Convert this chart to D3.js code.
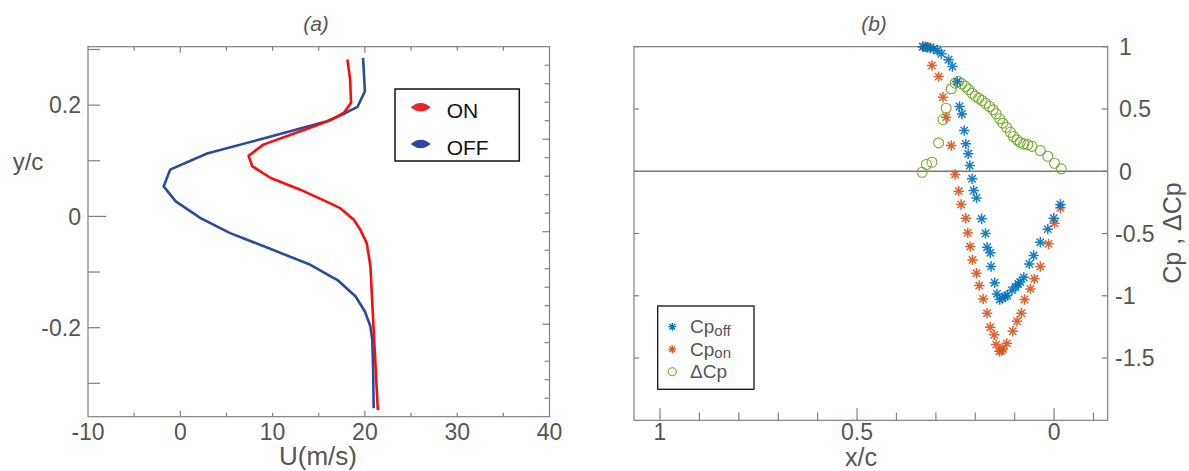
<!DOCTYPE html>
<html><head><meta charset="utf-8">
<script src="https://cdn.jsdelivr.net/npm/d3@7"></script>
<style>body{margin:0;background:#fff}svg{display:block}text{font-family:"Liberation Sans",Arial,sans-serif}</style>
</head><body><svg id="c" width="1189" height="471"></svg>
<script>
// ---- Panel (a): velocity profiles ----
const yOff = [0.285,0.255,0.225,0.197,0.185,0.171,0.140,0.113,0.084,0.054,0.027,-0.003,-0.030,-0.060,-0.087,-0.108,-0.114,-0.144,-0.171,-0.198,-0.222,-0.280,-0.345];
const uOff = [19.8,19.9,20.0,19.2,17.8,15.9,9.0,2.9,-1.1,-1.8,-0.5,2.2,5.4,10.0,14.1,16.3,17.0,19.0,20.0,20.6,20.8,20.9,20.95];
const yOn  = [0.282,0.246,0.204,0.186,0.173,0.153,0.129,0.109,0.090,0.069,0.048,0.023,0.015,-0.006,-0.024,-0.048,-0.090,-0.204,-0.348];
const uOn  = [18.1,18.4,18.5,17.7,16.3,13.0,9.0,7.4,7.8,9.8,13.0,16.3,17.3,18.8,19.5,20.2,20.6,20.95,21.4];
const aXTicks = [-10,0,10,20,30,40];
const aYTicks = [0.2,0,-0.2];
const aLegend = ["ON","OFF"];

// ---- Panel (b): pressure coefficients ----
const xCpOff = [0.333,0.323,0.314,0.306,0.296,0.286,0.268,0.258,0.246,0.240,0.234,0.228,0.224,0.218,0.214,0.208,0.204,0.197,0.184,0.174,0.170,0.162,0.160,0.151,0.145,0.138,0.132,0.124,0.119,0.107,0.098,0.091,0.086,0.077,0.063,0.052,0.035,0.016,0.001,-0.016];
const cpOff  = [1.00,0.996,0.99,0.983,0.97,0.943,0.895,0.841,0.72,0.52,0.46,0.327,0.22,0.14,0.046,-0.061,-0.155,-0.214,-0.382,-0.50,-0.61,-0.655,-0.765,-0.895,-0.985,-1.03,-1.02,-1.005,-0.998,-0.955,-0.93,-0.905,-0.89,-0.852,-0.744,-0.677,-0.57,-0.465,-0.377,-0.267];
const xCpOn = [0.333,0.327,0.320,0.310,0.293,0.282,0.274,0.261,0.251,0.242,0.236,0.224,0.219,0.213,0.207,0.197,0.190,0.180,0.170,0.162,0.152,0.147,0.139,0.134,0.130,0.120,0.105,0.094,0.083,0.075,0.060,0.050,0.035,0.014,-0.001,-0.016];
const cpOn  = [1.0,1.0,0.995,0.849,0.76,0.594,0.434,0.206,-0.026,-0.16,-0.267,-0.377,-0.495,-0.605,-0.712,-0.819,-0.918,-1.025,-1.14,-1.253,-1.314,-1.392,-1.446,-1.44,-1.427,-1.382,-1.285,-1.205,-1.14,-1.03,-0.945,-0.864,-0.765,-0.583,-0.418,-0.294];
const xDCp = [0.335,0.324,0.310,0.293,0.282,0.274,0.261,0.251,0.242,0.234,0.225,0.217,0.208,0.200,0.191,0.183,0.174,0.164,0.155,0.147,0.138,0.130,0.121,0.111,0.103,0.094,0.086,0.077,0.067,0.056,0.035,0.016,-0.001,-0.018];
const dCp  = [-0.008,0.054,0.072,0.228,0.415,0.506,0.662,0.707,0.72,0.702,0.68,0.656,0.626,0.602,0.586,0.568,0.546,0.52,0.493,0.461,0.421,0.386,0.353,0.313,0.279,0.252,0.233,0.22,0.214,0.2,0.166,0.12,0.064,0.019];
const bXTicks = [1,0.5,0];
const bXMinor = [1,0.9,0.8,0.7,0.6,0.5,0.4,0.3,0.2,0.1,0,-0.1];
const bYTicks = [1,0.5,0,-0.5,-1,-1.5];
const bYLabels = ["1","0.5","0","-0.5","-1","-1.5"];

const svg = d3.select("#c");
const grey = "#555", axc = "#7f7f7f";
const FS = 23;
const tickBase = 440, titleBase = 465, titleFS = 26;

// ===== Panel (a) =====
const xA = d3.scaleLinear().domain([-10,40]).range([88,549.5]);
const yA = d3.scaleLinear().domain([-0.36,0.305]).range([416.7,46.7]);
const gA = svg.append("g");
gA.append("rect").attr("x",xA(-10)).attr("y",yA(0.305)).attr("width",xA(40)-xA(-10)).attr("height",yA(-0.36)-yA(0.305))
  .attr("fill","none").attr("stroke",axc).attr("stroke-width",1.2);
d3.range(-5,40,5).forEach(v=>{
  const L = (v===0||v===20)?6:4;
  gA.append("line").attr("x1",xA(v)).attr("x2",xA(v)).attr("y1",yA(0.305)).attr("y2",yA(0.305)+L).attr("stroke",axc).attr("stroke-width",1.2);
  gA.append("line").attr("x1",xA(v)).attr("x2",xA(v)).attr("y1",yA(-0.36)).attr("y2",yA(-0.36)-L).attr("stroke",axc).attr("stroke-width",1.2);
});
[0.3,0.2,0.1,0,-0.1,-0.2,-0.3].forEach(v=>{
  const L = v===0?18:12;
  gA.append("line").attr("x1",xA(-10)).attr("x2",xA(-10)+L).attr("y1",yA(v)).attr("y2",yA(v)).attr("stroke",axc).attr("stroke-width",1.2);
});
const rA = d3.scaleLinear().domain([0,20]).range([416.7,46.7]);
d3.range(1,20).forEach(i=>{
  const L = i%5===0?7:5;
  gA.append("line").attr("x1",xA(40)).attr("x2",xA(40)-L).attr("y1",rA(i)).attr("y2",rA(i)).attr("stroke",axc).attr("stroke-width",1.2);
});
aXTicks.forEach(v=>{
  gA.append("text").attr("x",xA(v)).attr("y",tickBase).attr("text-anchor","middle").attr("font-size",FS).attr("fill",grey).text(v);
});
aYTicks.forEach(v=>{
  gA.append("text").attr("x",81).attr("y",yA(v)+8.3).attr("text-anchor","end").attr("font-size",FS).attr("fill",grey).text(v);
});
gA.append("text").attr("x",318).attr("y",titleBase).attr("text-anchor","middle").attr("font-size",titleFS).attr("fill",grey).text("U(m/s)");
gA.append("text").attr("x",28).attr("y",170).attr("text-anchor","middle").attr("font-size",24).attr("fill",grey).text("y/c");
gA.append("text").attr("x",316).attr("y",31).attr("text-anchor","middle").attr("font-size",21).attr("font-style","italic").attr("fill",grey).text("(a)");

const lineA = d3.line().x(d=>xA(d[0])).y(d=>yA(d[1]));
gA.append("path").datum(uOff.map((u,i)=>[u,yOff[i]])).attr("d",lineA).attr("fill","none").attr("stroke","#2a4a9c").attr("stroke-width",2.6).attr("stroke-linejoin","round");
gA.append("path").datum(uOn.map((u,i)=>[u,yOn[i]])).attr("d",lineA).attr("fill","none").attr("stroke","#ff0a0a").attr("stroke-width",2.6).attr("stroke-linejoin","round");

gA.append("rect").attr("x",395).attr("y",89).attr("width",124.3).attr("height",72).attr("fill","#fff").attr("stroke","#111").attr("stroke-width",1.5);
const lens = "M-10,0 Q0,-8.5 10,0 Q0,8.5 -10,0 Z";
const legColA = ["#e8262b","#2a4a9c"];
aLegend.forEach((t,i)=>{
  const cy = 107.3 + i*36.7;
  gA.append("path").attr("d",lens).attr("transform",`translate(420.7,${cy})`).attr("fill",legColA[i]);
  gA.append("text").attr("x",446.7).attr("y",cy+11).attr("font-size",21).attr("fill","#111").text(t);
});

// ===== Panel (b) =====
const xB = d3.scaleLinear().domain([1.066,-0.136]).range([634,1107.7]);
const yB = d3.scaleLinear().domain([-2,1]).range([420.3,46.7]);
const gB = svg.append("g");
gB.append("rect").attr("x",xB(1.066)).attr("y",yB(1)).attr("width",xB(-0.136)-xB(1.066)).attr("height",yB(-2)-yB(1))
  .attr("fill","none").attr("stroke",axc).attr("stroke-width",1.2);
gB.append("line").attr("x1",xB(1.066)).attr("x2",xB(-0.136)).attr("y1",yB(0)).attr("y2",yB(0)).attr("stroke","#777").attr("stroke-width",1.3);
bXMinor.forEach(v=>{
  const major = bXTicks.some(t=>Math.abs(t-v)<1e-9);
  const L = major?12:7.7;
  gB.append("line").attr("x1",xB(v)).attr("x2",xB(v)).attr("y1",yB(-2)).attr("y2",yB(-2)-L).attr("stroke",axc).attr("stroke-width",1.2);
});
bYTicks.forEach((v,i)=>{
  gB.append("line").attr("x1",xB(1.066)).attr("x2",xB(1.066)+5).attr("y1",yB(v)).attr("y2",yB(v)).attr("stroke",axc).attr("stroke-width",1.2);
  gB.append("line").attr("x1",xB(-0.136)).attr("x2",xB(-0.136)-6).attr("y1",yB(v)).attr("y2",yB(v)).attr("stroke",axc).attr("stroke-width",1.2);
  gB.append("text").attr("x",v<0?1115:1119).attr("y",yB(v)+8.3).attr("font-size",FS).attr("fill",grey).text(bYLabels[i]);
});
bXTicks.forEach(v=>{
  gB.append("text").attr("x",xB(v)).attr("y",tickBase-0.5).attr("text-anchor","middle").attr("font-size",FS).attr("fill",grey).text(v);
});
gB.append("text").attr("x",861).attr("y",465.8).attr("text-anchor","middle").attr("font-size",25).attr("fill",grey).text("x/c");
gB.append("text").attr("x",874).attr("y",31).attr("text-anchor","middle").attr("font-size",21).attr("font-style","italic").attr("fill",grey).text("(b)");
gB.append("text").attr("transform","translate(1181,233) rotate(-90)").attr("text-anchor","middle").attr("font-size",25).attr("fill",grey).text("Cp , \u0394Cp");

function star(r){
  const a = r*0.7071;
  return `M${-r},0L${r},0M0,${-r}L0,${r}M${-a},${-a}L${a},${a}M${-a},${a}L${a},${-a}`;
}
const cOff = "#0072BD", cOn = "#D95319", cD = "#77AC30";
const gD = gB.append("g");
dCp.forEach((v,i)=>{
  gD.append("circle").attr("cx",xB(xDCp[i])).attr("cy",yB(v)).attr("r",5).attr("fill","none").attr("stroke",cD).attr("stroke-width",1.1);
});
const gOn = gB.append("g");
cpOn.forEach((v,i)=>{
  gOn.append("path").attr("d",star(5.2)).attr("transform",`translate(${xB(xCpOn[i])},${yB(v)})`).attr("fill","none").attr("stroke",cOn).attr("stroke-width",1.5).attr("opacity",0.9);
});
const gOff = gB.append("g");
cpOff.forEach((v,i)=>{
  gOff.append("path").attr("d",star(5.2)).attr("transform",`translate(${xB(xCpOff[i])},${yB(v)})`).attr("fill","none").attr("stroke",cOff).attr("stroke-width",1.5).attr("opacity",0.9);
});

gB.append("rect").attr("x",657.7).attr("y",306).attr("width",96.3).attr("height",83.3).attr("fill","#fff").attr("stroke","#111").attr("stroke-width",1.3);
const legB = [
  {main:"Cp", sub:"off", col:cOff, type:"star"},
  {main:"Cp", sub:"on", col:cOn, type:"star"},
  {main:"\u0394Cp", sub:"", col:cD, type:"circle"}
];
legB.forEach((e,i)=>{
  const cy = 326.7 + i*22.5;
  if(e.type==="star"){
    gB.append("path").attr("d",star(4)).attr("transform",`translate(672.3,${cy})`).attr("fill","none").attr("stroke",e.col).attr("stroke-width",1.3);
  } else {
    gB.append("circle").attr("cx",672.3).attr("cy",cy).attr("r",4).attr("fill","none").attr("stroke",e.col).attr("stroke-width",1.1);
  }
  const t = gB.append("text").attr("x",690).attr("y",cy+6.5).attr("font-size",19).attr("fill",grey);
  t.append("tspan").text(e.main);
  if(e.sub) t.append("tspan").attr("font-size",15).attr("dy",2.5).text(e.sub);
});
</script></body></html>
